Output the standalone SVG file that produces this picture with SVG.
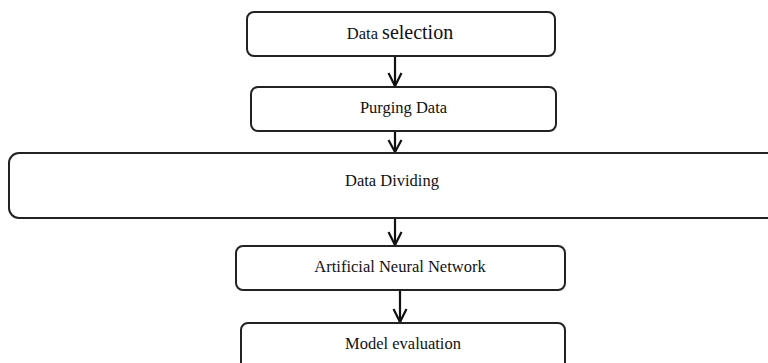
<svg xmlns="http://www.w3.org/2000/svg" width="768" height="363" viewBox="0 0 768 363">
<style>
.box{fill:#fff;stroke:#222;stroke-width:2}
.t{font-family:"Liberation Serif","Times New Roman",serif;font-size:16.5px;fill:#111;text-anchor:middle}
.c{stroke:#111;stroke-width:2.2;fill:none}
</style>
<rect width="768" height="363" fill="#fff"/>
<g id="connectors">
<line class="c" x1="395" y1="57" x2="395" y2="86"/>
<path class="c" d="M388.5,73 L395,86 L401.5,73"/>
<line class="c" x1="395" y1="132" x2="395" y2="152"/>
<path class="c" d="M388.5,140 L395,152 L401.5,140"/>
<line class="c" x1="395" y1="219" x2="395" y2="245"/>
<path class="c" d="M388.5,232 L395,245 L401.5,232"/>
<line class="c" x1="400" y1="291" x2="400" y2="322"/>
<path class="c" d="M393.5,309 L400,322 L406.5,309"/>
</g>
<g id="n1">
<rect class="box" x="247" y="12" width="308" height="44" rx="7"/>
<text class="t" x="400" y="39"><tspan>Data </tspan><tspan font-size="20px">selection</tspan></text>
</g>
<g id="n2">
<rect class="box" x="251" y="87" width="305" height="44" rx="7"/>
<text class="t" x="403.5" y="113">Purging Data</text>
</g>
<g id="n3">
<rect class="box" x="9" y="153" width="780" height="65" rx="10"/>
<text class="t" x="392" y="186">Data Dividing</text>
</g>
<g id="n4">
<rect class="box" x="236" y="246" width="329" height="44" rx="7"/>
<text class="t" x="400" y="272">Artificial Neural Network</text>
</g>
<g id="n5">
<rect class="box" x="241" y="323" width="324" height="60" rx="7"/>
<text class="t" x="403" y="349">Model evaluation</text>
</g>
</svg>
